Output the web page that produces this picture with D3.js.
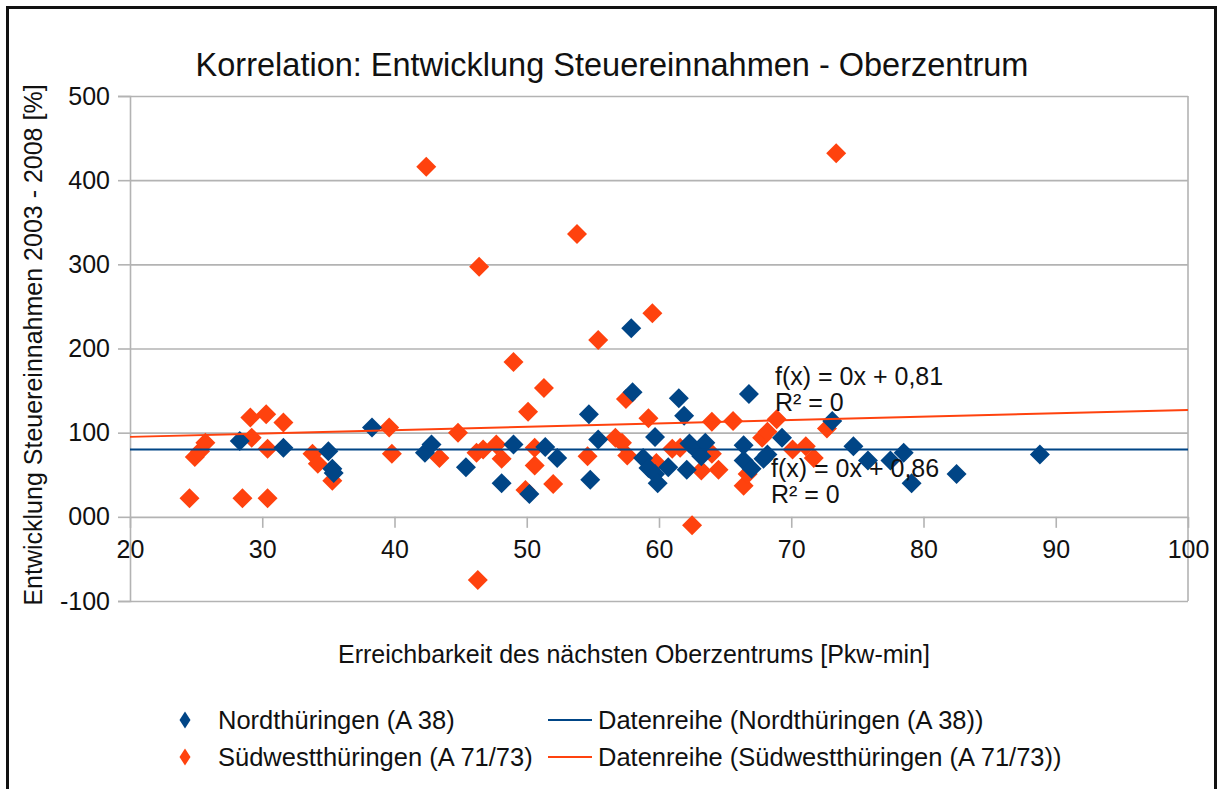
<!DOCTYPE html>
<html>
<head>
<meta charset="utf-8">
<script src="https://cdn.jsdelivr.net/npm/d3@7"></script>
<style>
  body { margin: 0; background: #fff; }
  text { font-family: "Liberation Sans", Arial, Helvetica, sans-serif; fill: #111; }
</style>
</head>
<body>
<div id="chart"></div>
<script>
'use strict';

// Nordthüringen (A 38)
var nordX = [28.3, 31.6, 35.0, 35.3, 35.4, 38.3, 42.3, 42.8, 45.4, 48.1, 49.0, 50.2, 51.4, 52.3,
    54.7, 54.8, 55.4, 57.9, 58.0, 58.8, 59.2, 59.7, 59.7, 59.9, 60.7, 61.5, 61.9, 62.1, 62.3,
    62.9, 63.2, 63.5, 66.4, 66.4, 66.8, 67.0, 67.9, 68.2, 69.3, 73.1, 74.7, 75.8, 77.5, 78.5,
    79.1, 82.5, 88.8];
var nordY = [90, 82, 78, 57, 52, 106, 76, 86, 59, 40, 86, 27, 83, 70,
    122, 44, 92, 224, 148, 70, 58, 95, 51, 40, 59, 141, 120, 56, 87,
    78, 72, 88, 85, 67, 146, 57, 69, 74, 94, 114, 84, 67, 67, 76,
    40, 51, 74];

// Südwestthüringen (A 71/73)
var suedX = [24.5, 24.9, 25.3, 25.7, 28.5, 29.1, 29.2, 30.3, 30.4, 30.4, 31.6, 33.8, 34.2, 35.3,
    39.6, 39.8, 42.4, 43.4, 44.8, 46.2, 46.3, 46.4, 46.7, 47.7, 48.1, 49.0, 49.9, 50.1, 50.6,
    50.6, 51.3, 52.0, 53.8, 54.6, 55.4, 56.7, 57.2, 57.5, 57.6, 59.2, 59.5, 59.8, 61.0, 61.6,
    62.5, 63.2, 64.0, 64.0, 64.5, 65.6, 66.4, 66.7, 67.8, 68.2, 68.9, 70.1, 71.1, 71.7, 72.7,
    73.4];
var suedY = [22, 71, 78, 88, 22, 118, 94, 122, 81, 22, 112, 75, 63, 43,
    106, 75, 416, 70, 100, 76, -75, 297, 80, 86, 69, 184, 32, 125, 82,
    61, 153, 39, 336, 72, 210, 94, 88, 140, 73, 117, 242, 64, 81, 82,
    -10, 55, 113, 75, 56, 114, 37, 51, 94, 101, 116, 80, 84, 70, 105,
    432];

// trend lines (Datenreihe), values at x = 20 and x = 100
var trendX = [20, 100];
var trendNordY = [80, 80];
var trendSuedY = [95, 127];

var xTicks = [20, 30, 40, 50, 60, 70, 80, 90, 100];
var yTicks = [-100, 0, 100, 200, 300, 400, 500];
var yTickLabels = ['-100', '000', '100', '200', '300', '400', '500'];

var blue = '#004586',
    orange = '#ff420e',
    grid = '#b3b3b3';

var width = 1219,
    height = 789;

var svg = d3.select('#chart').append('svg')
    .attr('width', width)
    .attr('height', height);

var x = d3.scaleLinear().domain([20, 100]).range([130, 1188]);
var y = d3.scaleLinear().domain([-100, 500]).range([601, 96]);

// outer frame
svg.append('rect')
    .attr('x', 7.5).attr('y', 7.5)
    .attr('width', 1208).attr('height', 800)
    .attr('fill', 'none')
    .attr('stroke', '#111')
    .attr('stroke-width', 3);

svg.append('text')
    .attr('x', 612).attr('y', 76)
    .attr('text-anchor', 'middle')
    .style('font-size', '32.5px')
    .text('Korrelation: Entwicklung Steuereinnahmen - Oberzentrum');

// horizontal grid
svg.append('g')
    .attr('transform', 'translate(130,0)')
    .call(d3.axisLeft(y).tickValues(yTicks).tickSize(-(1188 - 130)).tickFormat(''))
    .call(function(g) {
        g.select('.domain').remove();
        g.selectAll('line').attr('stroke', grid).attr('stroke-width', 1.6);
    });

// y axis with outside ticks
svg.append('g')
    .attr('transform', 'translate(130,0)')
    .call(d3.axisLeft(y).tickValues(yTicks).tickSize(12).tickPadding(8)
        .tickFormat(function(d, i) { return yTickLabels[i]; }))
    .call(function(g) {
        g.select('.domain').attr('stroke', grid).attr('stroke-width', 1.6);
        g.selectAll('line').attr('stroke', grid).attr('stroke-width', 1.6);
        g.selectAll('text').style('font-size', '25px').attr('fill', '#111');
    });

// right border of the plot
svg.append('line')
    .attr('x1', x(100)).attr('x2', x(100))
    .attr('y1', y(500)).attr('y2', y(-100))
    .attr('stroke', grid).attr('stroke-width', 1.6);

// x axis sits on the zero line
svg.append('g')
    .attr('transform', 'translate(0,' + y(0) + ')')
    .call(d3.axisBottom(x).tickValues(xTicks).tickSize(11).tickPadding(12).tickFormat(d3.format('d')))
    .call(function(g) {
        g.select('.domain').remove();
        g.selectAll('line').attr('stroke', grid).attr('stroke-width', 1.6);
        g.selectAll('text').style('font-size', '25px').attr('fill', '#111');
    });

svg.append('text')
    .attr('transform', 'translate(42,345) rotate(-90)')
    .attr('text-anchor', 'middle')
    .style('font-size', '25px')
    .text('Entwicklung Steuereinnahmen 2003 - 2008 [%]');

svg.append('text')
    .attr('x', 634).attr('y', 663)
    .attr('text-anchor', 'middle')
    .style('font-size', '25px')
    .text('Erreichbarkeit des nächsten Oberzentrums [Pkw-min]');

var diamond = 'M0,-10L10,0L0,10L-10,0Z';

function drawPoints(xs, ys, color) {
    svg.append('g')
        .selectAll('path')
        .data(d3.zip(xs, ys))
        .enter().append('path')
        .attr('d', diamond)
        .attr('transform', function(d) { return 'translate(' + x(d[0]) + ',' + y(d[1]) + ')'; })
        .attr('fill', color);
}

drawPoints(suedX, suedY, orange);
drawPoints(nordX, nordY, blue);

var line = d3.line()
    .x(function(d) { return x(d[0]); })
    .y(function(d) { return y(d[1]); });

svg.append('path')
    .datum(d3.zip(trendX, trendSuedY))
    .attr('d', line)
    .attr('fill', 'none')
    .attr('stroke', orange)
    .attr('stroke-width', 2);

svg.append('path')
    .datum(d3.zip(trendX, trendNordY))
    .attr('d', line)
    .attr('fill', 'none')
    .attr('stroke', blue)
    .attr('stroke-width', 2);

// regression labels
var eqLabels = [
    { x: 775, y: 385, t: 'f(x) = 0x + 0,81' },
    { x: 775, y: 411, t: 'R² = 0' },
    { x: 771, y: 477, t: 'f(x) = 0x + 0,86' },
    { x: 771, y: 503, t: 'R² = 0' }
];
svg.append('g').selectAll('text')
    .data(eqLabels)
    .enter().append('text')
    .attr('x', function(d) { return d.x; })
    .attr('y', function(d) { return d.y; })
    .style('font-size', '25px')
    .text(function(d) { return d.t; });

// legend
var legend = svg.append('g');
var legendRows = [
    { color: blue, label: 'Nordthüringen (A 38)', line: 'Datenreihe (Nordthüringen (A 38))' },
    { color: orange, label: 'Südwestthüringen (A 71/73)', line: 'Datenreihe (Südwestthüringen (A 71/73))' }
];
legendRows.forEach(function(r, i) {
    var cy = 720 + i * 37;
    legend.append('path')
        .attr('d', 'M0,-8.5L5.5,0L0,8.5L-5.5,0Z')
        .attr('transform', 'translate(185,' + cy + ')')
        .attr('fill', r.color);
    legend.append('text')
        .attr('x', 218).attr('y', cy + 8.5)
        .style('font-size', '25.5px')
        .text(r.label);
    legend.append('line')
        .attr('x1', 548).attr('x2', 592)
        .attr('y1', cy).attr('y2', cy)
        .attr('stroke', r.color)
        .attr('stroke-width', 2);
    legend.append('text')
        .attr('x', 598).attr('y', cy + 8.5)
        .style('font-size', '25.5px')
        .text(r.line);
});
</script>
</body>
</html>
